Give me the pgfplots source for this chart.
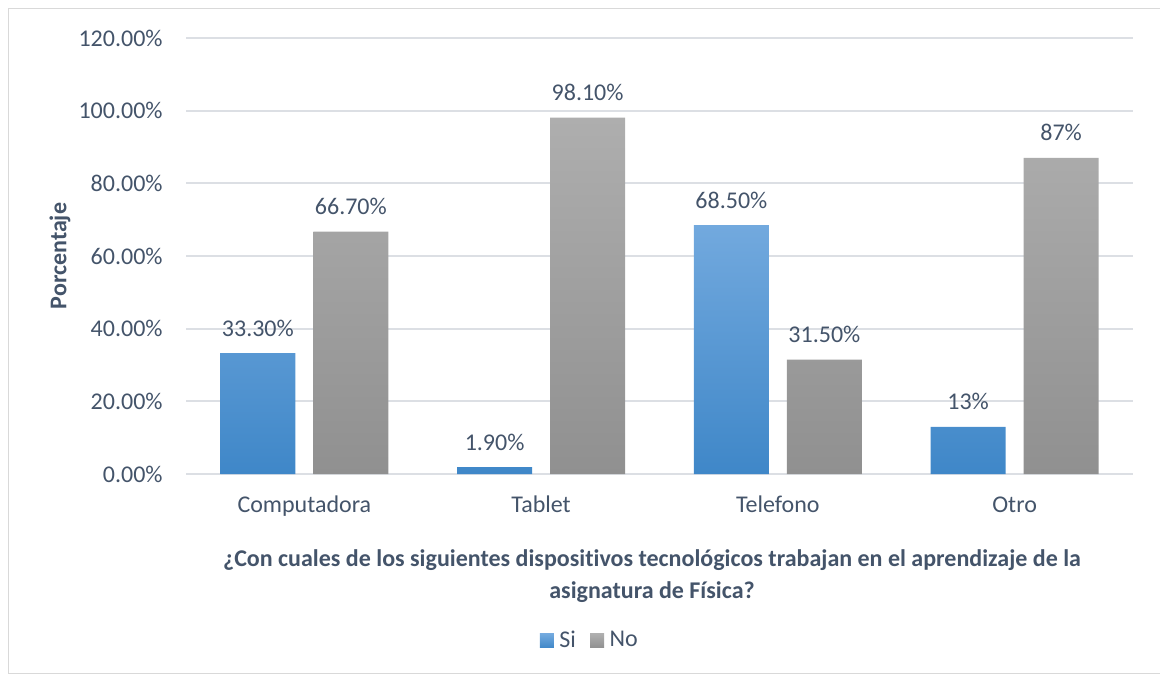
\documentclass[border=0pt]{standalone}
\usepackage{pgfplots}
\pgfplotsset{compat=1.18}
\usepackage{fontspec}
\setmainfont{Carlito}[Ligatures=NoCommon]

\definecolor{txt}{HTML}{44546A}
\definecolor{gridc}{HTML}{DCDFE4}
\definecolor{framec}{HTML}{D9D9D9}
\definecolor{siTop}{HTML}{72A9DE}
\definecolor{siBot}{HTML}{3F87C8}
\definecolor{noTop}{HTML}{AEAEAE}
\definecolor{noBot}{HTML}{909090}

\begin{document}
\fontsize{12}{14}\selectfont
\begin{tikzpicture}[x=0.5pt,y=0.5pt,every node/.append style={text=txt}]
\path[use as bounding box] (0,0) rectangle (1160,675);
\draw[framec] (8.5,2) rectangle (1180,667);

\begin{axis}[
  at={(93pt,100.5pt)}, anchor=south west,
  scale only axis, width=473.5pt, height=218pt,
  ybar=9pt, bar width=37.5pt,
  xmin=-0.5, xmax=3.5, ymin=0, ymax=120,
  xtick={0,1,2,3},
  xticklabels={Computadora,Tablet,Telefono,Otro},
  ytick={0,20,...,120},
  yticklabels={0.00\%,20.00\%,40.00\%,60.00\%,80.00\%,100.00\%,120.00\%},
  /pgf/number format/assume math mode=true,
  axis line style={draw=none},
  major tick length=0pt,
  ymajorgrids, grid style={gridc, line width=0.9pt},
  xticklabel style={anchor=base, yshift=-19pt, inner sep=0pt, text=txt},
  yticklabel style={anchor=east, xshift=-11.5pt, inner sep=0pt, text=txt},
  point meta=explicit symbolic,
  nodes near coords,
  nodes near coords style={anchor=south, inner sep=0pt, yshift=8.2pt, text=txt},
  legend columns=2,
  legend style={at={(axis description cs:0.4266,-0.383)}, anchor=center,
    draw=none, fill=none, inner sep=0pt, nodes={inner sep=1.2pt, text=txt}},
  /tikz/every odd column/.append style={column sep=1.5pt},
  /tikz/every even column/.append style={column sep=6pt},
  legend image code/.code={\path[#1, draw=none] (0pt,-3.5pt) rectangle (7pt,3.5pt);},
]
\addplot[draw=none, top color=siTop, bottom color=siBot] coordinates {
  (0,33.3) [33.30\%] (1,1.9) [1.90\%] (2,68.5) [68.50\%] (3,13) [13\%]
};
\addlegendentry{Si}
\addplot[draw=none, top color=noTop, bottom color=noBot] coordinates {
  (0,66.7) [66.70\%] (1,98.1) [98.10\%] (2,31.5) [31.50\%] (3,87) [87\%]
};
\addlegendentry{No}
\end{axis}

\node[anchor=base, font=\bfseries, inner sep=0pt] at (652,109)
  {¿Con cuales de los siguientes dispositivos tecnológicos trabajan en el aprendizaje de la};
\node[anchor=base, font=\bfseries, inner sep=0pt] at (652,77)
  {asignatura de Física?};
\node[rotate=90, font=\bfseries, inner sep=0pt] at (60,419) {Porcentaje};
\end{tikzpicture}
\end{document}
